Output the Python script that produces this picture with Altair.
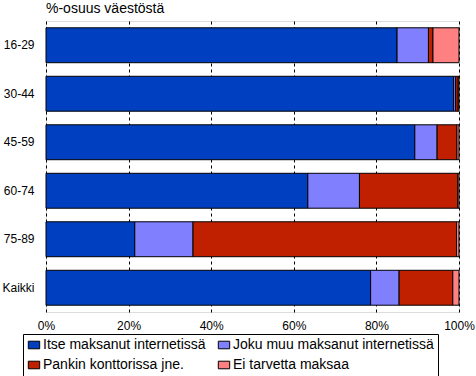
import altair as alt
import pandas as pd

groups = ["16-29", "30-44", "45-59", "60-74", "75-89", "Kaikki"]
series = ["Itse maksanut internetissä", "Joku muu maksanut internetissä",
          "Pankin konttorissa jne.", "Ei tarvetta maksaa"]
colors = ["#0040C0", "#8080FF", "#C02000", "#FF8080"]

itse = [85.0, 98.7, 89.3, 63.4, 21.5, 78.6]
joku = [7.6, 0.5, 5.4, 12.5, 14.1, 6.9]
pankki = [1.1, 0.6, 4.8, 23.8, 63.8, 13.0]
ei = [6.3, 0.2, 0.5, 0.3, 0.6, 1.5]

rows = []
for i, g in enumerate(groups):
    for j, (s, vals) in enumerate(zip(series, [itse, joku, pankki, ei])):
        rows.append({"ryhmä": g, "sarja": s, "arvo": vals[i], "järj": j})
df = pd.DataFrame(rows)

FONT = "Liberation Sans"
legend_order = [series[0], series[2], series[1], series[3]]

chart = alt.Chart(df).mark_bar(stroke="black", strokeWidth=1).encode(
    y=alt.Y("ryhmä:N", sort=groups, title=None,
            scale=alt.Scale(paddingInner=0.28, paddingOuter=0.14),
            axis=alt.Axis(ticks=False, domain=False, grid=False, labelPadding=12,
                          labelFontSize=12, labelFont=FONT, labelColor="black")),
    x=alt.X("arvo:Q", stack="zero", title=None,
            scale=alt.Scale(domain=[0, 100], nice=False),
            axis=alt.Axis(values=[0, 20, 40, 60, 80, 100], labelExpr="datum.value + '%'",
                          ticks=False, domain=False, grid=True, gridColor="black",
                          gridDash=[3, 3], gridOpacity=1, labelPadding=8,
                          labelFontSize=12, labelFont=FONT, labelColor="black",
                          labelFlush=False)),
    color=alt.Color("sarja:N", sort=series,
                    scale=alt.Scale(domain=series, range=colors),
                    legend=alt.Legend(title=None, orient="none", legendX=-23, legendY=313,
                                      values=legend_order,
                                      columns=2, columnPadding=10, rowPadding=6,
                                      symbolType="M-1.2,-0.8L1.2,-0.8L1.2,0.8L-1.2,0.8Z",
                                      symbolSize=90,
                                      symbolStrokeColor="black", symbolStrokeWidth=1,
                                      symbolOpacity=1,
                                      labelFontSize=14, labelFont=FONT, labelColor="black",
                                      labelLimit=300, strokeColor="black", padding=4,
                                      labelOffset=2)),
    order=alt.Order("järj:Q"),
).properties(
    width=413, height=291,
    title=alt.TitleParams("%-osuus väestöstä", anchor="start", frame="group",
                          fontSize=14, font=FONT, fontWeight="normal", color="black",
                          offset=5),
    autosize=alt.AutoSizeParams(type="none"),
    padding={"left": 46, "top": 21, "right": 17, "bottom": 64},
).configure_view(stroke="black", strokeWidth=1, fill="white").configure(background="white")

chart.save("out.html", embed_options={"renderer": "svg", "actions": False})
